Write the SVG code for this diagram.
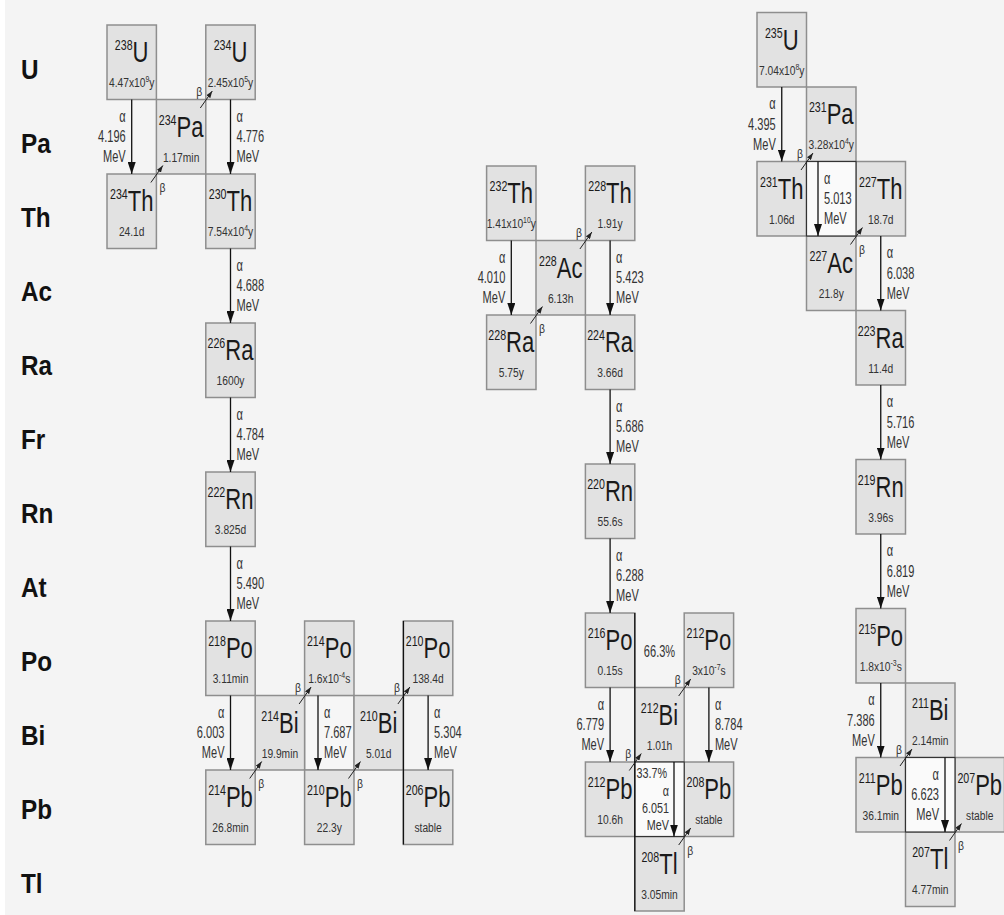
<svg xmlns="http://www.w3.org/2000/svg" width="1004" height="915" viewBox="0 0 1004 915">
<style>
text{font-family:'Liberation Sans',Arial,sans-serif}
.box{fill:#e2e2e2;stroke:#8e8e8e;stroke-width:1.5}
.gap{fill:#f6f6f6;stroke:#8e8e8e;stroke-width:1.2}
.wc{fill:#fafafa;stroke:#333;stroke-width:1.2}
.iso{font-size:29px;fill:#1a1a1a;text-anchor:middle}
.ms{font-size:14px}
.hl{font-size:12.5px;fill:#333;text-anchor:middle}
.sp{font-size:8.5px}
.lbl{font-size:16.5px;fill:#333}
.sm{font-size:15px}
.en{text-anchor:end}
.st{text-anchor:start}
.mid{text-anchor:middle}
.beta{font-size:13px;fill:#333}
.a{stroke:#111;stroke-width:1.3;fill:none;marker-end:url(#ah)}
.b{stroke:#222;stroke-width:1;fill:none;marker-end:url(#bh)}
.blk{stroke:#111;stroke-width:1.3}
.row{font-weight:bold;font-size:27px;fill:#111}
</style>
<defs>
<marker id="ah" viewBox="0 0 12 8" refX="12" refY="4" markerWidth="12" markerHeight="8" markerUnits="userSpaceOnUse" orient="auto"><path d="M0,0 L12,4 L0,8 z" fill="#111"/></marker>
<marker id="bh" viewBox="0 0 7 5" refX="7" refY="2.5" markerWidth="7" markerHeight="5" markerUnits="userSpaceOnUse" orient="auto"><path d="M0,0 L7,2.5 L0,5 z" fill="#222"/></marker>
</defs>
<rect x="0" y="0" width="1004" height="915" fill="#ffffff"/>
<rect x="5" y="0" width="999" height="915" fill="#f4f4f4"/>

<g id="row-labels" class="row">
<text transform="translate(21,79) scale(.9,1)">U</text>
<text transform="translate(21,153) scale(.9,1)">Pa</text>
<text transform="translate(21,227) scale(.9,1)">Th</text>
<text transform="translate(21,301) scale(.9,1)">Ac</text>
<text transform="translate(21,375) scale(.9,1)">Ra</text>
<text transform="translate(21,449) scale(.9,1)">Fr</text>
<text transform="translate(21,523) scale(.9,1)">Rn</text>
<text transform="translate(21,597) scale(.9,1)">At</text>
<text transform="translate(21,671) scale(.9,1)">Po</text>
<text transform="translate(21,745) scale(.9,1)">Bi</text>
<text transform="translate(21,819) scale(.9,1)">Pb</text>
<text transform="translate(21,893) scale(.9,1)">Tl</text>
</g>

<g id="cells">
<rect class="gap" x="304.6" y="695.5" width="49.4" height="74.5"/>
</g>

<!-- Left chain (U-238) -->
<g id="u238"><rect class="box" x="107" y="25" width="49.4" height="74.5"/>
<text class="iso" transform="translate(131.7,62) scale(.76,1)"><tspan class="ms" dy="-12">238</tspan><tspan dy="12">U</tspan></text>
<text class="hl" transform="translate(131.7,87) scale(.82,1)">4.47x10<tspan class="sp" dy="-5">9</tspan><tspan dy="5">y</tspan></text></g>
<g id="pa234"><rect class="box" x="156.4" y="99.5" width="49.4" height="74.5"/>
<text class="iso" transform="translate(181.1,136.5) scale(.76,1)"><tspan class="ms" dy="-12">234</tspan><tspan dy="12">Pa</tspan></text>
<text class="hl" transform="translate(181.1,161.5) scale(.82,1)">1.17min</text></g>
<g id="u234"><rect class="box" x="205.8" y="25" width="49.4" height="74.5"/>
<text class="iso" transform="translate(230.5,62) scale(.76,1)"><tspan class="ms" dy="-12">234</tspan><tspan dy="12">U</tspan></text>
<text class="hl" transform="translate(230.5,87) scale(.82,1)">2.45x10<tspan class="sp" dy="-5">5</tspan><tspan dy="5">y</tspan></text></g>
<g id="th234"><rect class="box" x="107" y="174" width="49.4" height="74.5"/>
<text class="iso" transform="translate(131.7,211) scale(.76,1)"><tspan class="ms" dy="-12">234</tspan><tspan dy="12">Th</tspan></text>
<text class="hl" transform="translate(131.7,236) scale(.82,1)">24.1d</text></g>
<g id="th230"><rect class="box" x="205.8" y="174" width="49.4" height="74.5"/>
<text class="iso" transform="translate(230.5,211) scale(.76,1)"><tspan class="ms" dy="-12">230</tspan><tspan dy="12">Th</tspan></text>
<text class="hl" transform="translate(230.5,236) scale(.82,1)">7.54x10<tspan class="sp" dy="-5">4</tspan><tspan dy="5">y</tspan></text></g>
<g id="ra226"><rect class="box" x="205.8" y="323" width="49.4" height="74.5"/>
<text class="iso" transform="translate(230.5,360) scale(.76,1)"><tspan class="ms" dy="-12">226</tspan><tspan dy="12">Ra</tspan></text>
<text class="hl" transform="translate(230.5,385) scale(.82,1)">1600y</text></g>
<g id="rn222"><rect class="box" x="205.8" y="472" width="49.4" height="74.5"/>
<text class="iso" transform="translate(230.5,509) scale(.76,1)"><tspan class="ms" dy="-12">222</tspan><tspan dy="12">Rn</tspan></text>
<text class="hl" transform="translate(230.5,534) scale(.82,1)">3.825d</text></g>
<g id="po218"><rect class="box" x="205.8" y="621" width="49.4" height="74.5"/>
<text class="iso" transform="translate(230.5,658) scale(.76,1)"><tspan class="ms" dy="-12">218</tspan><tspan dy="12">Po</tspan></text>
<text class="hl" transform="translate(230.5,683) scale(.82,1)">3.11min</text></g>
<g id="bi214"><rect class="box" x="255.2" y="695.5" width="49.4" height="74.5"/>
<text class="iso" transform="translate(279.9,732.5) scale(.76,1)"><tspan class="ms" dy="-12">214</tspan><tspan dy="12">Bi</tspan></text>
<text class="hl" transform="translate(279.9,757.5) scale(.82,1)">19.9min</text></g>
<g id="po214"><rect class="box" x="304.6" y="621" width="49.4" height="74.5"/>
<text class="iso" transform="translate(329.3,658) scale(.76,1)"><tspan class="ms" dy="-12">214</tspan><tspan dy="12">Po</tspan></text>
<text class="hl" transform="translate(329.3,683) scale(.82,1)">1.6x10<tspan class="sp" dy="-5">-4</tspan><tspan dy="5">s</tspan></text></g>
<g id="pb214"><rect class="box" x="205.8" y="770" width="49.4" height="74.5"/>
<text class="iso" transform="translate(230.5,807) scale(.76,1)"><tspan class="ms" dy="-12">214</tspan><tspan dy="12">Pb</tspan></text>
<text class="hl" transform="translate(230.5,832) scale(.82,1)">26.8min</text></g>
<g id="bi210"><rect class="box" x="354" y="695.5" width="49.4" height="74.5"/>
<text class="iso" transform="translate(378.7,732.5) scale(.76,1)"><tspan class="ms" dy="-12">210</tspan><tspan dy="12">Bi</tspan></text>
<text class="hl" transform="translate(378.7,757.5) scale(.82,1)">5.01d</text></g>
<g id="pb210"><rect class="box" x="304.6" y="770" width="49.4" height="74.5"/>
<text class="iso" transform="translate(329.3,807) scale(.76,1)"><tspan class="ms" dy="-12">210</tspan><tspan dy="12">Pb</tspan></text>
<text class="hl" transform="translate(329.3,832) scale(.82,1)">22.3y</text></g>
<g id="po210"><rect class="box" x="403.4" y="621" width="49.4" height="74.5"/>
<text class="iso" transform="translate(428.1,658) scale(.76,1)"><tspan class="ms" dy="-12">210</tspan><tspan dy="12">Po</tspan></text>
<text class="hl" transform="translate(428.1,683) scale(.82,1)">138.4d</text></g>
<g id="pb206"><rect class="box" x="403.4" y="770" width="49.4" height="74.5"/>
<text class="iso" transform="translate(428.1,807) scale(.76,1)"><tspan class="ms" dy="-12">206</tspan><tspan dy="12">Pb</tspan></text>
<text class="hl" transform="translate(428.1,832) scale(.82,1)">stable</text></g>

<!-- Middle chain (Th-232) -->
<g id="th232"><rect class="box" x="486.6" y="166" width="49.4" height="74.5"/>
<text class="iso" transform="translate(511.3,203) scale(.76,1)"><tspan class="ms" dy="-12">232</tspan><tspan dy="12">Th</tspan></text>
<text class="hl" transform="translate(511.3,228) scale(.82,1)">1.41x10<tspan class="sp" dy="-5">10</tspan><tspan dy="5">y</tspan></text></g>
<g id="ac228"><rect class="box" x="536" y="240.5" width="49.4" height="74.5"/>
<text class="iso" transform="translate(560.7,277.5) scale(.76,1)"><tspan class="ms" dy="-12">228</tspan><tspan dy="12">Ac</tspan></text>
<text class="hl" transform="translate(560.7,302.5) scale(.82,1)">6.13h</text></g>
<g id="th228"><rect class="box" x="585.4" y="166" width="49.4" height="74.5"/>
<text class="iso" transform="translate(610.1,203) scale(.76,1)"><tspan class="ms" dy="-12">228</tspan><tspan dy="12">Th</tspan></text>
<text class="hl" transform="translate(610.1,228) scale(.82,1)">1.91y</text></g>
<g id="ra228"><rect class="box" x="486.6" y="315" width="49.4" height="74.5"/>
<text class="iso" transform="translate(511.3,352) scale(.76,1)"><tspan class="ms" dy="-12">228</tspan><tspan dy="12">Ra</tspan></text>
<text class="hl" transform="translate(511.3,377) scale(.82,1)">5.75y</text></g>
<g id="ra224"><rect class="box" x="585.4" y="315" width="49.4" height="74.5"/>
<text class="iso" transform="translate(610.1,352) scale(.76,1)"><tspan class="ms" dy="-12">224</tspan><tspan dy="12">Ra</tspan></text>
<text class="hl" transform="translate(610.1,377) scale(.82,1)">3.66d</text></g>
<g id="rn220"><rect class="box" x="585.4" y="464" width="49.4" height="74.5"/>
<text class="iso" transform="translate(610.1,501) scale(.76,1)"><tspan class="ms" dy="-12">220</tspan><tspan dy="12">Rn</tspan></text>
<text class="hl" transform="translate(610.1,526) scale(.82,1)">55.6s</text></g>
<g id="po216"><rect class="box" x="585.4" y="613" width="49.4" height="74.5"/>
<text class="iso" transform="translate(610.1,650) scale(.76,1)"><tspan class="ms" dy="-12">216</tspan><tspan dy="12">Po</tspan></text>
<text class="hl" transform="translate(610.1,675) scale(.82,1)">0.15s</text></g>
<g id="bi212"><rect class="box" x="634.8" y="687.5" width="49.4" height="74.5"/>
<text class="iso" transform="translate(659.5,724.5) scale(.76,1)"><tspan class="ms" dy="-12">212</tspan><tspan dy="12">Bi</tspan></text>
<text class="hl" transform="translate(659.5,749.5) scale(.82,1)">1.01h</text></g>
<g id="po212"><rect class="box" x="684.2" y="613" width="49.4" height="74.5"/>
<text class="iso" transform="translate(708.9,650) scale(.76,1)"><tspan class="ms" dy="-12">212</tspan><tspan dy="12">Po</tspan></text>
<text class="hl" transform="translate(708.9,675) scale(.82,1)">3x10<tspan class="sp" dy="-5">-7</tspan><tspan dy="5">s</tspan></text></g>
<g id="pb212"><rect class="box" x="585.4" y="762" width="49.4" height="74.5"/>
<text class="iso" transform="translate(610.1,799) scale(.76,1)"><tspan class="ms" dy="-12">212</tspan><tspan dy="12">Pb</tspan></text>
<text class="hl" transform="translate(610.1,824) scale(.82,1)">10.6h</text></g>
<g id="pb208"><rect class="box" x="684.2" y="762" width="49.4" height="74.5"/>
<text class="iso" transform="translate(708.9,799) scale(.76,1)"><tspan class="ms" dy="-12">208</tspan><tspan dy="12">Pb</tspan></text>
<text class="hl" transform="translate(708.9,824) scale(.82,1)">stable</text></g>
<g id="tl208"><rect class="box" x="634.8" y="836.5" width="49.4" height="74.5"/>
<text class="iso" transform="translate(659.5,873.5) scale(.76,1)"><tspan class="ms" dy="-12">208</tspan><tspan dy="12">Tl</tspan></text>
<text class="hl" transform="translate(659.5,898.5) scale(.82,1)">3.05min</text></g>
<g id="cell-mid"><rect class="wc" x="634.8" y="762" width="49.4" height="74.5"/></g>

<!-- Right chain (U-235) -->
<g id="u235"><rect class="box" x="757" y="12.5" width="49.5" height="74.5"/>
<text class="iso" transform="translate(781.75,49.5) scale(.76,1)"><tspan class="ms" dy="-12">235</tspan><tspan dy="12">U</tspan></text>
<text class="hl" transform="translate(781.75,74.5) scale(.82,1)">7.04x10<tspan class="sp" dy="-5">8</tspan><tspan dy="5">y</tspan></text></g>
<g id="pa231"><rect class="box" x="806.5" y="87" width="49.5" height="74.5"/>
<text class="iso" transform="translate(831.25,124) scale(.76,1)"><tspan class="ms" dy="-12">231</tspan><tspan dy="12">Pa</tspan></text>
<text class="hl" transform="translate(831.25,149) scale(.82,1)">3.28x10<tspan class="sp" dy="-5">4</tspan><tspan dy="5">y</tspan></text></g>
<g id="th231"><rect class="box" x="757" y="161.5" width="49.5" height="74.5"/>
<text class="iso" transform="translate(781.75,198.5) scale(.76,1)"><tspan class="ms" dy="-12">231</tspan><tspan dy="12">Th</tspan></text>
<text class="hl" transform="translate(781.75,223.5) scale(.82,1)">1.06d</text></g>
<g id="th227"><rect class="box" x="856" y="161.5" width="49.5" height="74.5"/>
<text class="iso" transform="translate(880.75,198.5) scale(.76,1)"><tspan class="ms" dy="-12">227</tspan><tspan dy="12">Th</tspan></text>
<text class="hl" transform="translate(880.75,223.5) scale(.82,1)">18.7d</text></g>
<g id="ac227"><rect class="box" x="806.5" y="236" width="49.5" height="74.5"/>
<text class="iso" transform="translate(831.25,273) scale(.76,1)"><tspan class="ms" dy="-12">227</tspan><tspan dy="12">Ac</tspan></text>
<text class="hl" transform="translate(831.25,298) scale(.82,1)">21.8y</text></g>
<g id="cell-r1"><rect class="wc" x="806.5" y="161.5" width="49.5" height="74.5"/></g>
<g id="ra223"><rect class="box" x="856" y="310.5" width="49.5" height="74.5"/>
<text class="iso" transform="translate(880.75,347.5) scale(.76,1)"><tspan class="ms" dy="-12">223</tspan><tspan dy="12">Ra</tspan></text>
<text class="hl" transform="translate(880.75,372.5) scale(.82,1)">11.4d</text></g>
<g id="rn219"><rect class="box" x="856" y="459.5" width="49.5" height="74.5"/>
<text class="iso" transform="translate(880.75,496.5) scale(.76,1)"><tspan class="ms" dy="-12">219</tspan><tspan dy="12">Rn</tspan></text>
<text class="hl" transform="translate(880.75,521.5) scale(.82,1)">3.96s</text></g>
<g id="po215"><rect class="box" x="856" y="608.5" width="49.5" height="74.5"/>
<text class="iso" transform="translate(880.75,645.5) scale(.76,1)"><tspan class="ms" dy="-12">215</tspan><tspan dy="12">Po</tspan></text>
<text class="hl" transform="translate(880.75,670.5) scale(.82,1)">1.8x10<tspan class="sp" dy="-5">-3</tspan><tspan dy="5">s</tspan></text></g>
<g id="bi211"><rect class="box" x="905.5" y="683" width="49.5" height="74.5"/>
<text class="iso" transform="translate(930.25,720) scale(.76,1)"><tspan class="ms" dy="-12">211</tspan><tspan dy="12">Bi</tspan></text>
<text class="hl" transform="translate(930.25,745) scale(.82,1)">2.14min</text></g>
<g id="pb211"><rect class="box" x="856" y="757.5" width="49.5" height="74.5"/>
<text class="iso" transform="translate(880.75,794.5) scale(.76,1)"><tspan class="ms" dy="-12">211</tspan><tspan dy="12">Pb</tspan></text>
<text class="hl" transform="translate(880.75,819.5) scale(.82,1)">36.1min</text></g>
<g id="pb207"><rect class="box" x="955" y="757.5" width="49.5" height="74.5"/>
<text class="iso" transform="translate(979.75,794.5) scale(.76,1)"><tspan class="ms" dy="-12">207</tspan><tspan dy="12">Pb</tspan></text>
<text class="hl" transform="translate(979.75,819.5) scale(.82,1)">stable</text></g>
<g id="tl207"><rect class="box" x="905.5" y="832" width="49.5" height="74.5"/>
<text class="iso" transform="translate(930.25,869) scale(.76,1)"><tspan class="ms" dy="-12">207</tspan><tspan dy="12">Tl</tspan></text>
<text class="hl" transform="translate(930.25,894) scale(.82,1)">4.77min</text></g>
<g id="cell-r3"><rect class="wc" x="905.5" y="757.5" width="49.5" height="74.5"/></g>

<g id="frame-lines">
<line class="blk" x1="403.4" y1="621" x2="403.4" y2="844.5"/>
<line class="blk" x1="634.8" y1="613" x2="634.8" y2="911"/>
</g>

<g id="connectors">
<line class="a" x1="131.7" y1="99.5" x2="131.7" y2="174"/>
<line class="a" x1="230.5" y1="99.5" x2="230.5" y2="174"/>
<line class="a" x1="230.5" y1="248.5" x2="230.5" y2="323"/>
<line class="a" x1="230.5" y1="397.5" x2="230.5" y2="472"/>
<line class="a" x1="230.5" y1="546.5" x2="230.5" y2="621"/>
<line class="a" x1="230.5" y1="695.5" x2="230.5" y2="770"/>
<line class="a" x1="318" y1="695.5" x2="318" y2="770"/>
<line class="a" x1="428.1" y1="695.5" x2="428.1" y2="770"/>
<line class="a" x1="511.3" y1="240.5" x2="511.3" y2="315"/>
<line class="a" x1="610.1" y1="240.5" x2="610.1" y2="315"/>
<line class="a" x1="610.1" y1="389.5" x2="610.1" y2="464"/>
<line class="a" x1="610.1" y1="538.5" x2="610.1" y2="613"/>
<line class="a" x1="610.1" y1="687.5" x2="610.1" y2="762"/>
<line class="a" x1="708.9" y1="687.5" x2="708.9" y2="762"/>
<line class="a" x1="674" y1="762" x2="674" y2="836.5"/>
<line class="a" x1="781.75" y1="87" x2="781.75" y2="161.5"/>
<line class="a" x1="818" y1="161.5" x2="818" y2="236"/>
<line class="a" x1="880.75" y1="236" x2="880.75" y2="310.5"/>
<line class="a" x1="880.75" y1="385" x2="880.75" y2="459.5"/>
<line class="a" x1="880.75" y1="534" x2="880.75" y2="608.5"/>
<line class="a" x1="880.75" y1="683" x2="880.75" y2="757.5"/>
<line class="a" x1="945" y1="757.5" x2="945" y2="832"/>
<line class="b" x1="150.9" y1="182.5" x2="162.9" y2="165.5"/>
<line class="b" x1="200.3" y1="108" x2="212.3" y2="91"/>
<line class="b" x1="249.7" y1="778.5" x2="261.7" y2="761.5"/>
<line class="b" x1="299.1" y1="704" x2="311.1" y2="687"/>
<line class="b" x1="348.5" y1="778.5" x2="360.5" y2="761.5"/>
<line class="b" x1="397.9" y1="704" x2="409.9" y2="687"/>
<line class="b" x1="530.5" y1="323.5" x2="542.5" y2="306.5"/>
<line class="b" x1="579.9" y1="249" x2="591.9" y2="232"/>
<line class="b" x1="629.3" y1="770.5" x2="641.3" y2="753.5"/>
<line class="b" x1="678.7" y1="696" x2="690.7" y2="679"/>
<line class="b" x1="678.7" y1="845" x2="690.7" y2="828"/>
<line class="b" x1="801" y1="170" x2="813" y2="153"/>
<line class="b" x1="850.5" y1="244.5" x2="862.5" y2="227.5"/>
<line class="b" x1="900" y1="766" x2="912" y2="749"/>
<line class="b" x1="949.5" y1="840.5" x2="961.5" y2="823.5"/>
<g class="beta">
<text transform="translate(159.4,192) scale(.8,1)">β</text>
<text class="en" transform="translate(202.3,95.5) scale(.8,1)">β</text>
<text transform="translate(258.2,788) scale(.8,1)">β</text>
<text class="en" transform="translate(301.1,691.5) scale(.8,1)">β</text>
<text transform="translate(357,788) scale(.8,1)">β</text>
<text class="en" transform="translate(399.9,691.5) scale(.8,1)">β</text>
<text transform="translate(539,333) scale(.8,1)">β</text>
<text class="en" transform="translate(581.9,236.5) scale(.8,1)">β</text>
<text class="en" transform="translate(631.3,758) scale(.8,1)">β</text>
<text class="en" transform="translate(680.7,683.5) scale(.8,1)">β</text>
<text transform="translate(687.2,854.5) scale(.8,1)">β</text>
<text class="en" transform="translate(803,157.5) scale(.8,1)">β</text>
<text transform="translate(859,254) scale(.8,1)">β</text>
<text class="en" transform="translate(902,753.5) scale(.8,1)">β</text>
<text transform="translate(958,850) scale(.8,1)">β</text>
</g>
<g class="lbl">
<text class="en" transform="translate(125.7,121.5) scale(.67,1)"><tspan x="0" y="0">α</tspan><tspan x="0" y="21">4.196</tspan><tspan x="0" y="41">MeV</tspan></text>
<text class="st" transform="translate(236.5,121.5) scale(.67,1)"><tspan x="0" y="0">α</tspan><tspan x="0" y="21">4.776</tspan><tspan x="0" y="41">MeV</tspan></text>
<text class="st" transform="translate(236.5,270.5) scale(.67,1)"><tspan x="0" y="0">α</tspan><tspan x="0" y="21">4.688</tspan><tspan x="0" y="41">MeV</tspan></text>
<text class="st" transform="translate(236.5,419.5) scale(.67,1)"><tspan x="0" y="0">α</tspan><tspan x="0" y="21">4.784</tspan><tspan x="0" y="41">MeV</tspan></text>
<text class="st" transform="translate(236.5,568.5) scale(.67,1)"><tspan x="0" y="0">α</tspan><tspan x="0" y="21">5.490</tspan><tspan x="0" y="41">MeV</tspan></text>
<text class="en" transform="translate(224.5,717.5) scale(.67,1)"><tspan x="0" y="0">α</tspan><tspan x="0" y="21">6.003</tspan><tspan x="0" y="41">MeV</tspan></text>
<text class="st" transform="translate(324,717.5) scale(.67,1)"><tspan x="0" y="0">α</tspan><tspan x="0" y="21">7.687</tspan><tspan x="0" y="41">MeV</tspan></text>
<text class="st" transform="translate(434.1,717.5) scale(.67,1)"><tspan x="0" y="0">α</tspan><tspan x="0" y="21">5.304</tspan><tspan x="0" y="41">MeV</tspan></text>
<text class="en" transform="translate(505.3,262.5) scale(.67,1)"><tspan x="0" y="0">α</tspan><tspan x="0" y="21">4.010</tspan><tspan x="0" y="41">MeV</tspan></text>
<text class="st" transform="translate(616.1,262.5) scale(.67,1)"><tspan x="0" y="0">α</tspan><tspan x="0" y="21">5.423</tspan><tspan x="0" y="41">MeV</tspan></text>
<text class="st" transform="translate(616.1,411.5) scale(.67,1)"><tspan x="0" y="0">α</tspan><tspan x="0" y="21">5.686</tspan><tspan x="0" y="41">MeV</tspan></text>
<text class="st" transform="translate(616.1,560.5) scale(.67,1)"><tspan x="0" y="0">α</tspan><tspan x="0" y="21">6.288</tspan><tspan x="0" y="41">MeV</tspan></text>
<text class="en" transform="translate(604.1,709.5) scale(.67,1)"><tspan x="0" y="0">α</tspan><tspan x="0" y="21">6.779</tspan><tspan x="0" y="41">MeV</tspan></text>
<text class="st" transform="translate(714.9,709.5) scale(.67,1)"><tspan x="0" y="0">α</tspan><tspan x="0" y="21">8.784</tspan><tspan x="0" y="41">MeV</tspan></text>
<text class="en sm" transform="translate(667,778) scale(.72,1)">33.7%</text>
<text class="en sm" transform="translate(669,795.5) scale(.72,1)"><tspan x="0" y="0">α</tspan><tspan x="0" y="17.5">6.051</tspan><tspan x="0" y="35">MeV</tspan></text>
<text class="mid" transform="translate(659.5,657) scale(.67,1)">66.3%</text>
<text class="en" transform="translate(775.75,109) scale(.67,1)"><tspan x="0" y="0">α</tspan><tspan x="0" y="21">4.395</tspan><tspan x="0" y="41">MeV</tspan></text>
<text class="st" transform="translate(824,183.5) scale(.67,1)"><tspan x="0" y="0">α</tspan><tspan x="0" y="21">5.013</tspan><tspan x="0" y="41">MeV</tspan></text>
<text class="st" transform="translate(886.75,258) scale(.67,1)"><tspan x="0" y="0">α</tspan><tspan x="0" y="21">6.038</tspan><tspan x="0" y="41">MeV</tspan></text>
<text class="st" transform="translate(886.75,407) scale(.67,1)"><tspan x="0" y="0">α</tspan><tspan x="0" y="21">5.716</tspan><tspan x="0" y="41">MeV</tspan></text>
<text class="st" transform="translate(886.75,556) scale(.67,1)"><tspan x="0" y="0">α</tspan><tspan x="0" y="21">6.819</tspan><tspan x="0" y="41">MeV</tspan></text>
<text class="en" transform="translate(874.75,705) scale(.67,1)"><tspan x="0" y="0">α</tspan><tspan x="0" y="21">7.386</tspan><tspan x="0" y="41">MeV</tspan></text>
<text class="en" transform="translate(939,779.5) scale(.67,1)"><tspan x="0" y="0">α</tspan><tspan x="0" y="21">6.623</tspan><tspan x="0" y="41">MeV</tspan></text>
</g>
</g>
</svg>
